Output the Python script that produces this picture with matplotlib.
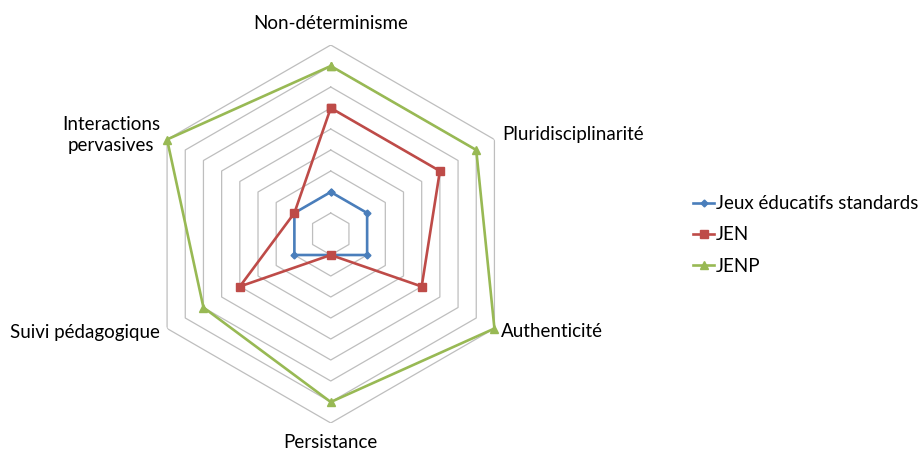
import numpy as np
import matplotlib
matplotlib.use('Agg')
import matplotlib.pyplot as plt

plt.rcParams['font.family'] = ['Lato', 'DejaVu Sans']

# categories and series values
categories = ['Non-déterminisme', 'Pluridisciplinarité', 'Authenticité',
              'Persistance', 'Suivi pédagogique', 'Interactions\npervasives']
jeux_std = [2, 2, 2, 1, 2, 2]
jen = [6, 6, 5, 1, 5, 2]
jenp = [8, 8, 9, 8, 7, 9]
series_names = ['Jeux éducatifs standards', 'JEN', 'JENP']
rings = [1, 2, 3, 4, 5, 6, 7, 8, 9]

angles = np.deg2rad(np.arange(0, 360, 60))
closed = np.append(angles, angles[0])

fig = plt.figure(figsize=(9.18, 4.5), dpi=100)
ax = fig.add_axes([0.1544, 0.06, 0.4118, 0.84], projection='polar')
ax.set_theta_zero_location('N')
ax.set_theta_direction(-1)
ax.set_ylim(0, 9)
ax.grid(False)
ax.set_xticks([])
ax.set_yticks([])
ax.spines['polar'].set_visible(False)
ax.patch.set_alpha(0)

# hexagon grid
for r in rings:
    ax.plot(closed, [r] * len(closed), color='#BEBEBE', lw=0.9, zorder=1)

def close(v):
    return list(v) + [v[0]]

ax.plot(closed, close(jeux_std), color='#4A7EBB', lw=1.9, marker='D', ms=3.5,
        label=series_names[0], zorder=3, clip_on=False)
ax.plot(closed, close(jen), color='#BE4B48', lw=1.9, marker='s', ms=5.5,
        label=series_names[1], zorder=3, clip_on=False)
ax.plot(closed, close(jenp), color='#98B954', lw=1.9, marker='^', ms=6,
        label=series_names[2], zorder=3, clip_on=False)

# category labels
offsets = [(0, 15.2), (5.5, 3.5), (4.8, -2.5), (0, -14.2), (-5, -3.2), (-5, 3)]
aligns = ['center', 'left', 'left', 'center', 'right', 'right']
for a, lab, off, ha in zip(angles, categories, offsets, aligns):
    ax.annotate(lab, xy=(a, 9), xytext=off, textcoords='offset points',
                ha=ha, va='center', multialignment='center', fontsize=13.5,
                linespacing=1.3, color='black', annotation_clip=False)

fig.legend(loc='center left', bbox_to_anchor=(0.755, 0.478), frameon=False,
           fontsize=13.5, handlelength=1.12, handletextpad=0.1,
           labelspacing=0.76, borderpad=0, borderaxespad=0)

fig.savefig('out.png', dpi=100)
